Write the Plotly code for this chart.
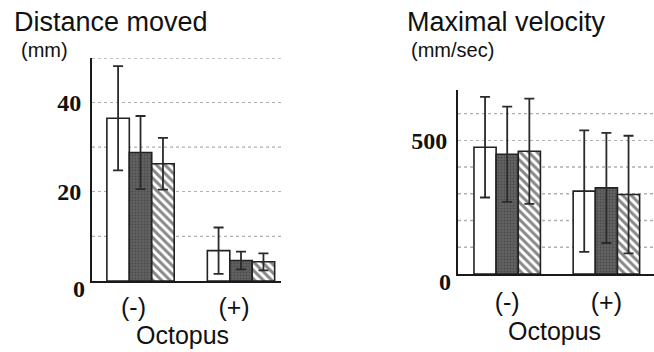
import plotly.graph_objects as go

W, H = 654, 352

# Groups on the x axis
groups = ["(-)", "(+)"]
series_names = ["A", "B", "C"]

# Distance moved (mm): mean and error per series, one value per group
dist_mean = [[36.5, 6.8], [28.8, 4.6], [26.3, 4.3]]
dist_err = [[11.7, 5.2], [8.2, 2.0], [5.8, 1.9]]

# Maximal velocity (mm/sec)
vel_mean = [[474, 310], [448, 322], [459, 297]]
vel_err = [[188, 227], [178, 206], [197, 220]]

dist_ticks = [20, 40]
vel_ticks = [500]

edge = "#222222"
styles = [
    dict(color="white", pattern=None),
    dict(color="#575757", pattern=dict(shape=".", fgcolor="#333333", bgcolor="#626262", size=3, solidity=0.3)),
    dict(color="white", pattern=dict(shape="\\", fgcolor="#111111", bgcolor="white", size=6, solidity=0.5)),
]


def px(x):
    return x / W


def py(y):
    return 1 - y / H


fig = go.Figure()

for i, name in enumerate(series_names):
    for means, errs, xa, ya in [(dist_mean, dist_err, "x", "y"), (vel_mean, vel_err, "x2", "y2")]:
        marker = dict(color=styles[i]["color"], line=dict(color=edge, width=1.6))
        if styles[i]["pattern"]:
            marker["pattern"] = styles[i]["pattern"]
        fig.add_trace(go.Bar(
            x=groups, y=means[i], name=name, xaxis=xa, yaxis=ya,
            marker=marker, offsetgroup=str(i), showlegend=False,
            error_y=dict(type="data", array=errs[i], color="#2a2a2a", thickness=1.8, width=5),
        ))

grid = dict(showgrid=True, gridcolor="#b0b0b0", griddash="dot", gridwidth=1.3)
tickfont_num = dict(family="Liberation Serif", size=24, color="#111111", weight="bold")
tickfont_cat = dict(family="Liberation Sans", size=25, color="#111111")

fig.update_layout(
    width=W, height=H, margin=dict(l=0, r=0, t=0, b=0),
    paper_bgcolor="white", plot_bgcolor="white",
    barmode="group", bargap=0.33, bargroupgap=0,
    xaxis=dict(domain=[px(92), px(281)], range=[-0.483, 1.398], anchor="y",
               showline=True, linecolor="#1a1a1a", linewidth=2, ticks="",
               tickfont=tickfont_cat, ticklabelshift=-7, ticklabelstandoff=3),
    yaxis=dict(domain=[py(281), py(58)], range=[0, 50], anchor="x",
               showline=True, linecolor="#1a1a1a", linewidth=2, ticks="",
               tickvals=dist_ticks, tickfont=tickfont_num, ticklabelstandoff=4,
               zeroline=False, **grid),
    xaxis2=dict(domain=[px(458), 1.0], range=[-0.496, 1.48], anchor="y2",
                showline=True, linecolor="#1a1a1a", linewidth=2, ticks="",
                tickfont=tickfont_cat, ticklabelstandoff=5),
    yaxis2=dict(domain=[py(274), py(90)], range=[0, 688], anchor="x2",
                showline=True, linecolor="#1a1a1a", linewidth=2, ticks="",
                tickvals=vel_ticks, tickfont=tickfont_num, ticklabelstandoff=4,
                zeroline=False, **grid),
)

# Extra dotted gridlines between labelled ticks
for v in [10, 30, 50]:
    fig.add_shape(type="line", xref="x domain", yref="y", x0=0, x1=1, y0=v, y1=v,
                  line=dict(color="#b0b0b0", width=1.3, dash="dot"), layer="below")
for v in [100, 200, 300, 400, 600]:
    fig.add_shape(type="line", xref="x2 domain", yref="y2", x0=0, x1=1, y0=v, y1=v,
                  line=dict(color="#b0b0b0", width=1.3, dash="dot"), layer="below")

# Zero labels sit a little below the baseline
for xr, yr in [("x domain", "y"), ("x2 domain", "y2")]:
    fig.add_annotation(text="0", xref=xr, yref=yr, x=0, y=0, xanchor="right", yanchor="middle",
                       xshift=-5, yshift=-8, showarrow=False, font=tickfont_num)

title_font = dict(family="Liberation Sans", size=27, color="#111111")
unit_font = dict(family="Liberation Sans", size=20, color="#111111")
fig.add_annotation(text="Distance moved", xref="paper", yref="paper", x=px(12), y=py(22),
                   xanchor="left", yanchor="middle", showarrow=False, font=title_font)
fig.add_annotation(text="(mm)", xref="paper", yref="paper", x=px(19), y=py(50),
                   xanchor="left", yanchor="middle", showarrow=False, font=unit_font)
fig.add_annotation(text="Maximal velocity", xref="paper", yref="paper", x=px(405), y=py(22),
                   xanchor="left", yanchor="middle", showarrow=False, font=title_font)
fig.add_annotation(text="(mm/sec)", xref="paper", yref="paper", x=px(409), y=py(50),
                   xanchor="left", yanchor="middle", showarrow=False, font=unit_font)
fig.add_annotation(text="Octopus", xref="paper", yref="paper", x=px(182), y=py(335),
                   xanchor="center", yanchor="middle", showarrow=False, font=tickfont_cat)
fig.add_annotation(text="Octopus", xref="paper", yref="paper", x=px(554), y=py(331),
                   xanchor="center", yanchor="middle", showarrow=False, font=tickfont_cat)

fig.write_html("out.html")
